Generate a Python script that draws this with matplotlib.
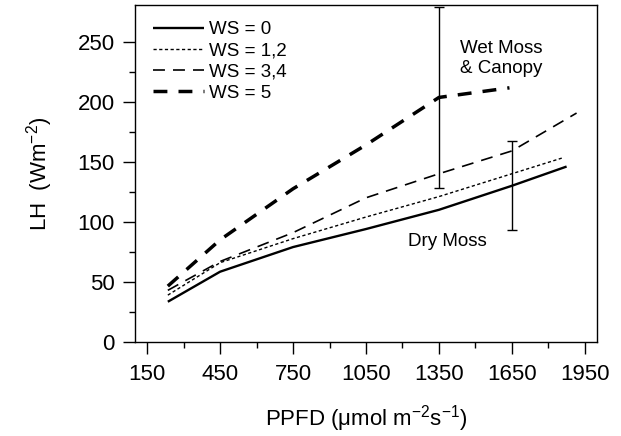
import matplotlib
matplotlib.use("Agg")
import matplotlib.pyplot as plt
import numpy as np
from matplotlib.ticker import FixedLocator

plt.rcParams['font.family'] = ['Liberation Sans', 'DejaVu Sans']
plt.rcParams['mathtext.default'] = 'regular'
plt.rcParams['lines.scale_dashes'] = False

# ---- data ----
ws0_x = [235, 450, 750, 1050, 1350, 1650, 1875]
ws0_y = [33.5, 58.5, 79, 94, 110, 130, 146]
ws12_x = [235, 450, 750, 1050, 1350, 1650, 1855]
ws12_y = [39, 66, 86, 104, 121, 140, 153]
ws34_x = [235, 450, 750, 1050, 1350, 1650, 1916]
ws34_y = [43, 67, 91, 120, 140, 159, 190.5]
ws5_x = [235, 450, 750, 1050, 1350, 1640]
ws5_y = [46.5, 85, 127.5, 164, 203.5, 211.5]

err_x = [1350, 1650]
err_low = [128.5, 93.5]
err_high = [279, 167]

labels = ['WS = 0', 'WS = 1,2', 'WS = 3,4', 'WS = 5']
x_major = [150, 450, 750, 1050, 1350, 1650, 1950]
y_major = [0, 50, 100, 150, 200, 250]

fig = plt.figure(figsize=(6.21, 4.36), dpi=100)
ax = fig.add_axes([135/621, (436-342)/436, (597-135)/621, (342-5.5)/436])

ax.plot(ws0_x, ws0_y, color='black', lw=1.7, solid_capstyle='butt', label=labels[0])
ax.plot(ws12_x, ws12_y, color='black', lw=1.0, dashes=(2.3, 1.8), label=labels[1])
ax.plot(ws34_x, ws34_y, color='black', lw=1.2, dashes=(8.6, 5.8), label=labels[2])
ax.plot(ws5_x, ws5_y, color='black', lw=2.5, dashes=(10.0, 8.0), label=labels[3])

mid = [(l + h) / 2 for l, h in zip(err_low, err_high)]
half = [(h - l) / 2 for l, h in zip(err_low, err_high)]
ax.errorbar(err_x, mid, yerr=half, fmt='none', ecolor='black', elinewidth=1.0,
            capsize=3.6, capthick=1.0, clip_on=False)

ax.text(1605, 236, 'Wet Moss\n& Canopy', ha='center', va='center', fontsize=13.5,
        multialignment='center', linespacing=1.2)
ax.text(1385, 83.5, 'Dry Moss', ha='center', va='center', fontsize=13.5)

ax.set_xlim(100, 2000)
ax.set_ylim(0, 280)
ax.xaxis.set_major_locator(FixedLocator(x_major))
ax.xaxis.set_minor_locator(FixedLocator([300, 600, 900, 1200, 1500, 1800]))
ax.yaxis.set_major_locator(FixedLocator(y_major))
ax.yaxis.set_minor_locator(FixedLocator([25, 75, 125, 175, 225]))
ax.tick_params(which='major', direction='out', length=8.6, width=1.0, labelsize=16, pad=6,
               top=False, right=False)
ax.tick_params(axis='x', which='major', pad=7.5)
ax.tick_params(which='minor', direction='out', length=4.5, width=1.0, top=False, right=False)
for s in ax.spines.values():
    s.set_linewidth(1.0)

ax.set_xlabel('PPFD (μmol m$^{-2}$s$^{-1}$)', fontsize=16, labelpad=13)
ax.set_ylabel('LH  (Wm$^{-2}$)', fontsize=16, labelpad=16)

leg = ax.legend(loc='upper left', bbox_to_anchor=(18/462, 1 - 15.5/336), frameon=False,
                fontsize=13.5, handlelength=2.7, handletextpad=0.3, labelspacing=0.22,
                borderpad=0, borderaxespad=0)

fig.savefig('out.png', dpi=100)
